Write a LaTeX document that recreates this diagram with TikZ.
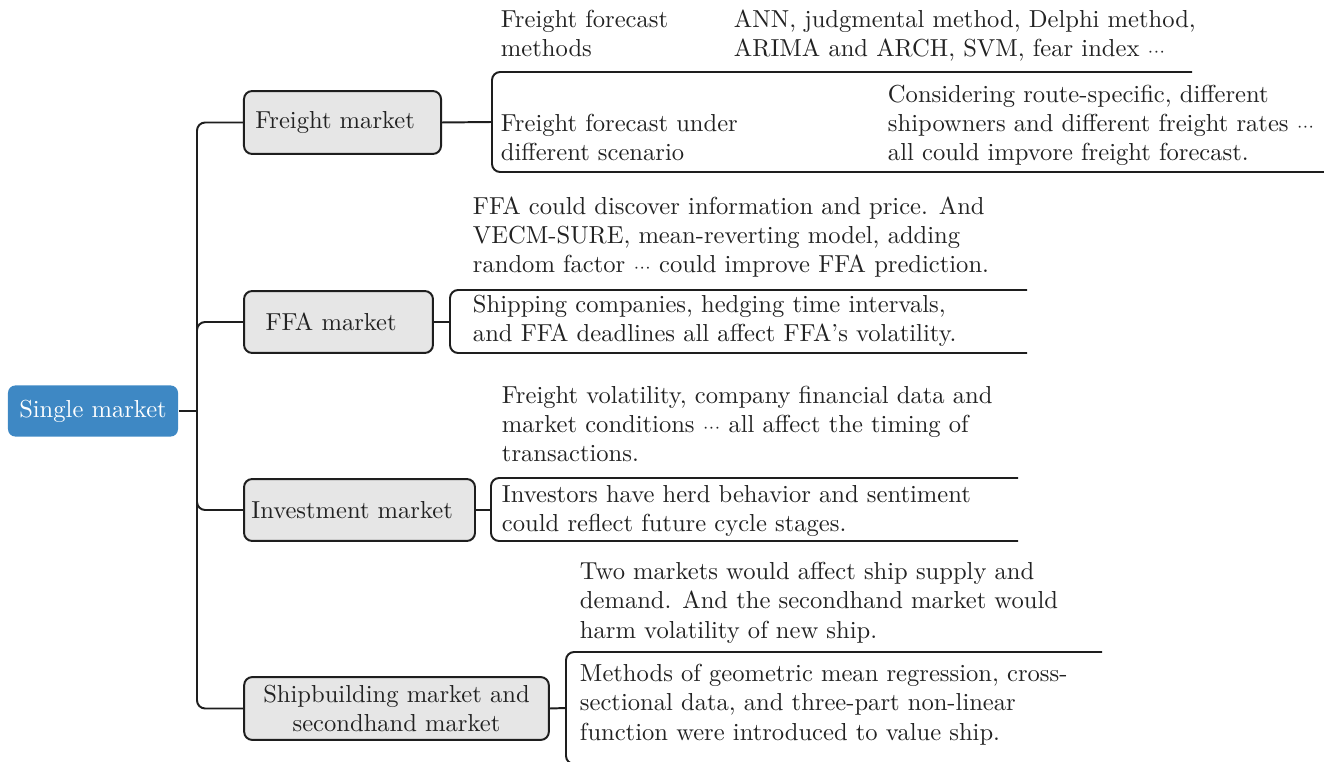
\documentclass[tikz,border=0pt]{standalone}
\definecolor{rootblue}{HTML}{3E88C4}
\definecolor{boxgray}{HTML}{E6E6E6}
\definecolor{linec}{HTML}{1E1E1E}
\definecolor{textc}{HTML}{222222}
\newcommand{\smalldots}{\ensuremath{\scriptstyle\cdots}}
\begin{document}
\begin{tikzpicture}[x=0.407pt,y=-0.407pt,
  line width=0.8pt,
  rootbox/.style={fill=rootblue, rounded corners=3pt, text=white, minimum width=69.2pt, minimum height=20.8pt, inner sep=0pt},
  catbox/.style={draw=linec, fill=boxgray, rounded corners=3.3pt, inner sep=0pt, align=center, text=textc},
  txt/.style={anchor=base west, inner sep=0pt, align=left, text=textc},
  link/.style={draw=linec, rounded corners=3.3pt},
  plain/.style={draw=linec}]
\useasboundingbox (0,0) rectangle (1324,762);
\clip (0,0) rectangle (1324,762);
% root and category boxes
\node[rootbox] (root) at (93,411) {Single market};
\node[catbox, minimum width=80.2pt, minimum height=25.6pt] (fm) at (342.5,122.5) {Freight market\hspace{6pt}};
\node[catbox, minimum width=76.9pt, minimum height=25.2pt] (ffa) at (338.5,322) {FFA market\hspace{6pt}};
\node[catbox, minimum width=94pt, minimum height=25.2pt] (inv) at (359.5,510) {Investment market\hspace{6pt}};
\node[catbox, minimum width=124pt, minimum height=25.6pt] (ship) at (396.5,708.5) {Shipbuilding market and\\secondhand market};
% trunk
\coordinate (hub) at (197,411);
\draw[plain] (root.east) -- (hub);
\foreach \c in {fm,ffa,inv,ship} \draw[link] (hub) |- (\c.west);
% brackets
\coordinate (fmj) at (492,122);   \coordinate (fmtop) at (1192,72);   \coordinate (fmbot) at (1324,172);
\coordinate (ffaj) at (450,322);  \coordinate (ffatop) at (1027,290); \coordinate (ffabot) at (1027,353);
\coordinate (invj) at (491,510);  \coordinate (invtop) at (1018,478); \coordinate (invbot) at (1018,541);
\coordinate (shipj) at (566,708); \coordinate (shiptop) at (1102,652); \coordinate (shipbot) at (1102,764);
\draw[plain] (fm.east) -- (fmj);
\draw[link] (fmj) |- (fmtop);
\draw[link] (fmj) |- (fmbot);
\draw[plain] (ffa.east) -- (ffaj);
\draw[link] (ffaj) |- (ffatop);
\draw[link] (ffaj) |- (ffabot);
\draw[plain] (inv.east) -- (invj);
\draw[link] (invj) |- (invtop);
\draw[link] (invj) |- (invbot);
\draw[plain] (ship.east) -- (shipj);
\draw[link] (shipj) |- (shiptop);
\draw[link] (shipj) |- (shipbot);
% texts (anchored at the baseline of the last line)
\node[txt] (t1) at (500,57) {Freight forecast\\methods};
\node[txt] (t1a) at (733,57) {ANN, judgmental method, Delphi method,\\ARIMA and ARCH, SVM, fear index \smalldots};
\node[txt] (t2) at (500,161) {Freight forecast under\\different scenario};
\node[txt] (t2a) at (887,161) {Considering route-specific, different\\shipowners and different freight rates \smalldots\\all could impvore freight forecast.};
\node[txt] (t3) at (472,273) {FFA could discover information and price. And\\VECM-SURE, mean-reverting model, adding\\random factor \smalldots{} could improve FFA prediction.};
\node[txt] (t4) at (472,342) {Shipping companies, hedging time intervals,\\and FFA deadlines all affect FFA's volatility.};
\node[txt] (t5) at (501,462) {Freight volatility, company financial data and\\market conditions \smalldots{} all affect the timing of\\transactions.};
\node[txt] (t6) at (501,532) {Investors have herd behavior and sentiment\\could reflect future cycle stages.};
\node[txt] (t7) at (579,638) {Two markets would affect ship supply and\\demand. And the secondhand market would\\harm volatility of new ship.};
\node[txt] (t8) at (579,740) {Methods of geometric mean regression, cross-\\sectional data, and three-part non-linear\\function were introduced to value ship.};
\end{tikzpicture}
\end{document}
